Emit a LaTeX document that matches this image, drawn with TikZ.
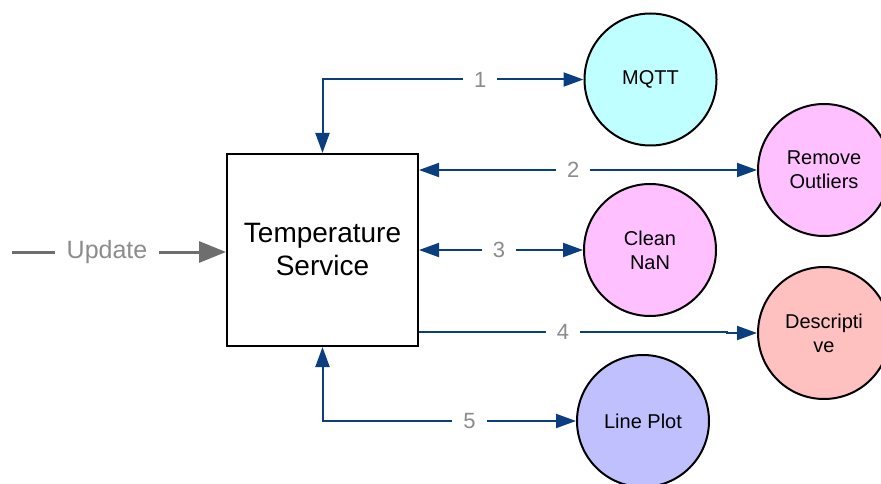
\documentclass[tikz,border=0pt]{standalone}
\usepackage{fontspec}
\setmainfont{Liberation Sans}
\usetikzlibrary{arrows.meta}

\definecolor{flowblue}{HTML}{0A3E80}
\definecolor{updgray}{HTML}{6E6E6E}
\definecolor{lblgray}{HTML}{8C8C8C}
\definecolor{fillcyan}{HTML}{C0FFFF}
\definecolor{fillpink}{HTML}{FFC0FF}
\definecolor{fillsalmon}{HTML}{FFC0C0}
\definecolor{filllav}{HTML}{C0C0FF}

\tikzset{
  svc/.style={draw=black, line width=2pt, fill=white, rectangle,
    minimum width=191pt, minimum height=192pt, inner sep=0pt,
    align=center, font=\fontsize{28}{33}\selectfont},
  task/.style={draw=black, line width=2pt, circle, minimum size=132pt,
    inner sep=0pt, align=center, font=\fontsize{20}{24}\selectfont},
  flow/.style={draw=flowblue, line width=2pt,
    -{Triangle[length=20pt,width=14pt]}},
  biflow/.style={flow, {Triangle[length=20pt,width=14pt]}-{Triangle[length=20pt,width=14pt]}},
  lbl/.style={fill=white, text=lblgray, inner xsep=11pt, inner ysep=2pt,
    font=\fontsize{22}{24}\selectfont},
  updflow/.style={draw=updgray, line width=3pt,
    -{Triangle[length=27pt,width=21pt]}},
  updlbl/.style={fill=white, text=lblgray, inner xsep=12pt, inner ysep=2pt,
    font=\fontsize{25}{27}\selectfont}
}

\begin{document}
\begin{tikzpicture}[x=1pt,y=-1pt]
\useasboundingbox (0,0) rectangle (881,484);

% central service
\node[svc] (box) at (322.5,250) {Temperature\\Service};

% processing steps
\node[task, fill=fillcyan]   (mqtt)  at (650.5,79.5) {MQTT};
\node[task, fill=fillpink]   (rem)   at (824,170)    {Remove\\Outliers};
\node[task, fill=fillpink]   (clean) at (650,250)    {Clean\\NaN};
\node[task, fill=fillsalmon] (desc)  at (824,333)    {Descripti\\ve};
\node[task, fill=filllav]    (plot)  at (643,421)    {Line Plot};

% incoming update
\coordinate (upd) at (12,252);
\draw[updflow] (upd) -- node[updlbl, pos=0.444] {Update} (box.west |- upd);

% numbered flows
\draw[biflow] (mqtt.west) -| node[lbl, pos=0.198] {1} (box.north);
\draw[biflow] (box.east |- rem.west) -- node[lbl, pos=0.456] {2} (rem.west);
\draw[biflow] (box.east) -- node[lbl, pos=0.488] {3} (clean.west);
\coordinate (j4) at (727,331.5);
\draw[flow] (box.east |- j4) -- node[lbl, pos=0.4675] {4} (j4) |- (desc.west);
\draw[biflow] (box.south) |- node[lbl, pos=0.79] {5} (plot.west);
\end{tikzpicture}
\end{document}
